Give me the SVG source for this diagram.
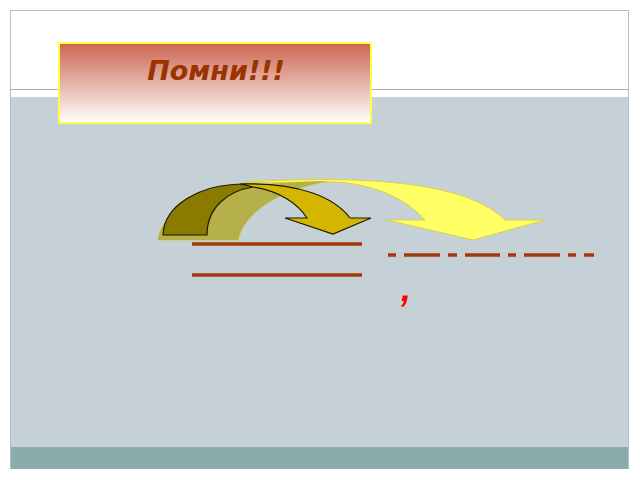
<svg xmlns="http://www.w3.org/2000/svg" width="640" height="480" viewBox="0 0 640 480">
<defs>
<linearGradient id="tg" x1="0" y1="0" x2="0" y2="1">
<stop offset="0" stop-color="#cc6650"/>
<stop offset="1" stop-color="#ffffff"/>
</linearGradient>
<style>
.rule{stroke:#a33a0a;stroke-width:3.5;fill:none}
.title{font-family:"DejaVu Sans","Liberation Sans",sans-serif;font-weight:bold;font-style:italic;font-size:27px;fill:#993300}
</style>
</defs>
<rect x="0" y="0" width="640" height="480" fill="#ffffff"/>
<g id="frame">
<rect x="10.5" y="10.5" width="618" height="458" fill="#ffffff" stroke="#aec2c6" stroke-width="1"/>
<line x1="10" y1="89.5" x2="629" y2="89.5" stroke="#9fb3b7" stroke-width="1"/>
<rect x="11" y="97" width="617" height="350" fill="#c6d1d7"/>
<rect x="11" y="447" width="617" height="22" fill="#8aacac"/>
</g>
<g id="title-box">
<rect x="59" y="43" width="312" height="80" fill="url(#tg)" stroke="#ffff44" stroke-width="2"/>
<text class="title" x="216" y="80" text-anchor="middle">Помни!!!</text>
</g>
<g id="big-arrow">
<path d="M158,240 C162,205 220,182 330,181 C295,186 246,205 238,240 Z" fill="#b5b04a" stroke="#d8cc40" stroke-width="1"/>
<path d="M245,182 C380,174 470,185 505,220 L545,220 L473,240 L387,220 L425,220 C400,192 360,182 330,182 C300,182 270,183 245,182 Z" fill="#ffff66" stroke="#e0d03a" stroke-width="1"/>
<path d="M158,240 C162,205 220,182 330,181 C295,186 246,205 238,240 Z" fill="#b5b04a" stroke="none"/>
</g>
<g id="small-arrow">
<path d="M163,235 C164,205 200,184 245,184 C250,184 253,185 253,187 C228,191 207,207 207,235 Z" fill="#8b7a00" stroke="#1a1a00" stroke-width="1.2"/>
<path d="M240,184 C300,182 335,198 350,218 L371,218 L333,234 L285,218 L307,218 C298,204 280,191 253,187 C250,186 246,185 240,184 Z" fill="#d4b600" stroke="#1a1a00" stroke-width="1.2"/>
</g>
<g id="connectors">
<line class="rule" x1="192" y1="244" x2="362" y2="244"/>
<line class="rule" x1="192" y1="275" x2="362" y2="275"/>
<path class="rule" d="M388,255H396M404,255H440M448,255H457M465,255H500M508,255H516M524,255H560M568,255H576M584,255H594"/>
</g>
<g id="comma">
<text x="401" y="301" font-family="Liberation Sans, sans-serif" font-weight="bold" font-style="italic" font-size="36" fill="#ff0000">,</text>
</g>
</svg>
